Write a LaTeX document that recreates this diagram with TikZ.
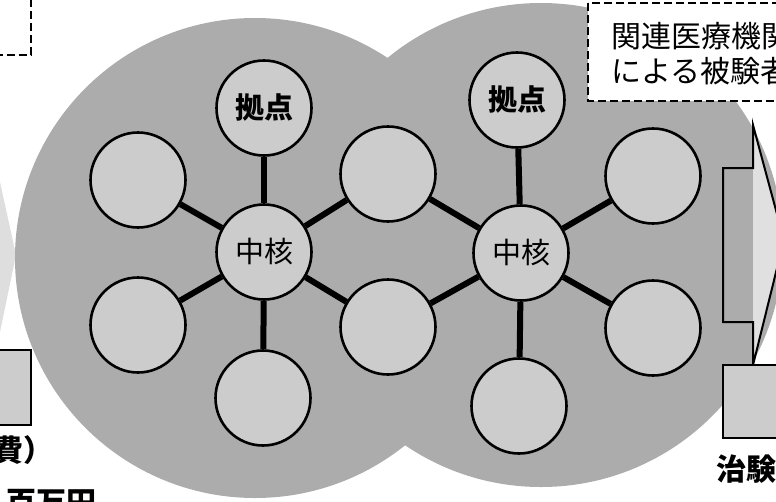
\documentclass[tikz,border=0pt]{standalone}
\usepackage{fontspec}
\newfontfamily\jp{Noto Sans CJK JP}
\definecolor{biggray}{RGB}{172,172,172}
\definecolor{smallgray}{RGB}{204,204,204}
\definecolor{headgray}{RGB}{224,224,224}
\definecolor{faintgray}{RGB}{222,222,222}
\begin{document}
\begin{tikzpicture}[x=1pt,y=-1pt,
  bigc/.style={circle, fill=biggray, inner sep=0pt, minimum size=480pt},
  sat/.style={circle, draw=black, line width=2.6pt, fill=smallgray, minimum size=95pt, inner sep=0pt},
  link/.style={line width=6pt, draw=black},
  dbox/.style={draw=black, line width=1.8pt, dash pattern=on 8pt off 4pt, fill=white},
  gbox/.style={draw=black, line width=2pt, fill=smallgray},
  hubtxt/.style={font=\jp\fontsize{29}{32}\selectfont},
  basetxt/.style={font=\jp\bfseries\fontsize{29}{32}\selectfont},
  bigtxt/.style={font=\jp\fontsize{30}{34}\selectfont, inner sep=0pt},
  boldtxt/.style={font=\jp\bfseries\fontsize{30}{34}\selectfont, inner sep=0pt}
]
\useasboundingbox (0,0) rectangle (776,501);

% faint arrow tip at left edge
\fill[faintgray] (0,182) -- (16,255) -- (0,332) -- cycle;

% two big overlapping discs
\node[bigc] (bigL) at (255,258) {};
\node[bigc, minimum size=484pt] (bigR) at (541,245) {};

% dashed boxes
\draw[dbox] (-5,-5) rectangle (31,55);
\draw[dbox] (588,3) rectangle (790,101);
\node[bigtxt, anchor=west] (t1) at (611,36) {関連医療機関};
\node[bigtxt, anchor=west] (t2) at (611,71) {による被験者};

% right arrow
\fill[headgray] (753,125) -- (784,240) -- (753,365) -- cycle;
\fill[biggray] (723,168) rectangle (753,322);
\draw[line width=2pt, line join=miter] (723,168) -- (753,168) -- (753,125) -- (784,240) -- (753,365) -- (753,322) -- (723,322) -- cycle;

% grey boxes at the sides
\draw[gbox] (-5,350) rectangle (31,425);
\draw[gbox] (723,365) rectangle (790,438);

% side texts
\node[boldtxt, anchor=east] (fee) at (54,450) {費）};
\node[boldtxt, anchor=west] (yen) at (6,503) {百万円};
\node[boldtxt, anchor=west] (chiken) at (716,469) {治験};

% left cluster
\node[sat] (Lc)  at (264,252) {};
\node[sat] (Lt)  at (264,108) {};
\node[sat] (Lb)  at (263,398) {};
\node[sat] (Lul) at (138,180) {};
\node[sat] (Lll) at (138,325) {};
% shared middle
\node[sat] (Mu)  at (388,174) {};
\node[sat] (Ml)  at (388,327) {};
% right cluster
\node[sat] (Rc)  at (521,253) {};
\node[sat] (Rt)  at (517,100) {};
\node[sat] (Rb)  at (519,406) {};
\node[sat] (Rur) at (653,176) {};
\node[sat] (Rlr) at (653,328) {};

% labels
\node[basetxt] (Ltl) at (Lt) {拠点};
\node[basetxt] (Rtl) at (Rt) {拠点};
\node[hubtxt] (Lcl) at (Lc) {中核};
\node[hubtxt] (Rcl) at (Rc) {中核};

% connectors
\foreach \a/\b in {Lc/Lt, Lc/Lb, Lc/Lul, Lc/Lll, Lc/Mu, Lc/Ml,
                   Rc/Mu, Rc/Ml, Rc/Rt, Rc/Rb, Rc/Rur, Rc/Rlr}
  \draw[link] (\a) -- (\b);
\end{tikzpicture}
\end{document}
